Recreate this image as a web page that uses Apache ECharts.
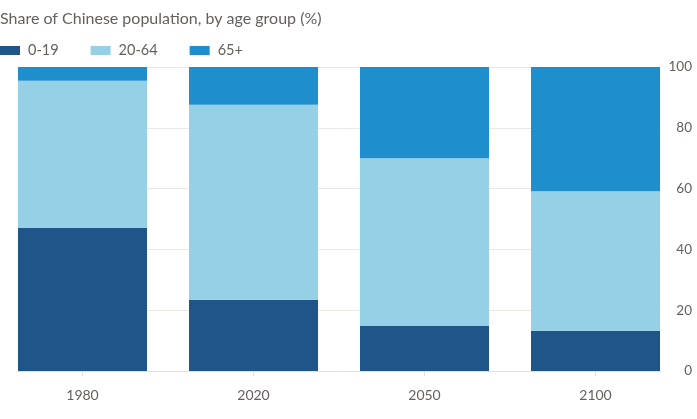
<!DOCTYPE html>
<html>
<head>
<meta charset="utf-8">
<script src="https://cdn.jsdelivr.net/npm/echarts@6/dist/echarts.min.js"></script>
<style>
html,body{margin:0;padding:0;background:#fff;}
#chart{width:697px;height:419px;}
</style>
</head>
<body>
<div id="chart"></div>
<script>
const years = ['1980', '2020', '2050', '2100'];
const age0to19 = [47.0, 23.4, 14.8, 13.2];
const age20to64 = [48.5, 64.2, 55.2, 45.9];
const age65plus = [4.5, 12.4, 30.0, 40.9];
const yTicks = [0, 20, 40, 60, 80, 100];

const fontFamily = 'Lato, "Open Sans", sans-serif';
const labelColor = '#66605c';

const chart = echarts.init(document.getElementById('chart'), null, {renderer: 'canvas'});
const barW = 129;
chart.setOption({
  animation: false,
  textStyle: {fontFamily: fontFamily},
  title: {
    text: 'Share of Chinese population, by age group (%)',
    left: 0, top: 11, padding: 0,
    textStyle: {fontFamily: fontFamily, fontSize: 16, fontWeight: 'normal', color: '#66605c'}
  },
  legend: {
    left: 0, top: 43, padding: 0,
    itemWidth: 20, itemHeight: 9, itemGap: 32,
    icon: 'rect',
    textStyle: {fontFamily: fontFamily, fontSize: 14.5, color: '#66605c', padding: [0, 0, 0, 3]},
    data: ['0-19', '20-64', '65+']
  },
  grid: [
    {left: 18, right: 36, top: 67, bottom: 48, outerBoundsMode: 'none', containLabel: false},
    {left: -3, right: 16, top: 67, bottom: 48, outerBoundsMode: 'none', containLabel: false}
  ],
  xAxis: [
    {
      type: 'value', gridIndex: 0, min: 0, max: 1,
      splitLine: {show: false},
      axisLine: {show: true, lineStyle: {color: '#e3e1de', width: 1}},
      axisTick: {show: false}, axisLabel: {show: false}
    },
    {
      type: 'category', gridIndex: 1, data: years, boundaryGap: true,
      axisLine: {show: false},
      axisTick: {show: true, alignWithLabel: true, length: 5, lineStyle: {color: '#e3e1de'}},
      axisLabel: {color: labelColor, fontSize: 14, margin: 17, fontFamily: fontFamily},
      splitLine: {show: false}
    }
  ],
  yAxis: [
    {
      type: 'value', gridIndex: 0, position: 'right',
      min: 0, max: 100, interval: 20,
      axisLine: {show: false}, axisTick: {show: false},
      splitLine: {lineStyle: {color: '#ebe9e6', width: 1}},
      axisLabel: {
        align: 'right', margin: 31, color: labelColor, fontSize: 13.5, fontFamily: fontFamily,
        formatter: v => yTicks.includes(v) ? String(v) : ''
      }
    },
    {
      type: 'value', gridIndex: 1, min: 0, max: 100, show: false
    }
  ],
  series: [
    {name: '0-19', type: 'bar', stack: 'a', xAxisIndex: 1, yAxisIndex: 1, barWidth: barW, data: age0to19, itemStyle: {color: '#205589'}},
    {name: '20-64', type: 'bar', stack: 'a', xAxisIndex: 1, yAxisIndex: 1, barWidth: barW, data: age20to64, itemStyle: {color: '#96d0e6'}},
    {name: '65+', type: 'bar', stack: 'a', xAxisIndex: 1, yAxisIndex: 1, barWidth: barW, data: age65plus, itemStyle: {color: '#1e8ecd'}}
  ]
});
</script>
</body>
</html>
